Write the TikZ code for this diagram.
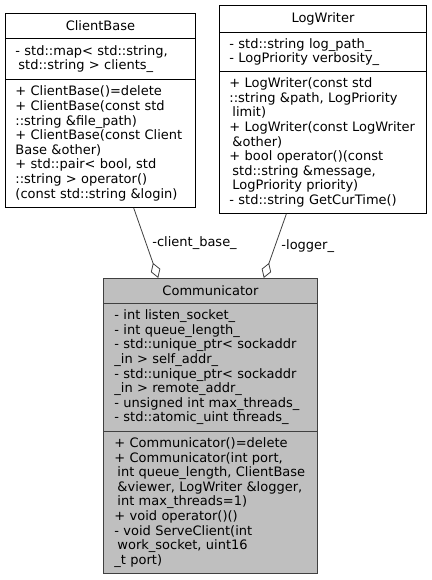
\documentclass[tikz,border=0pt]{standalone}
\usepackage{fontspec}
\setmainfont{DejaVu Sans}
\usetikzlibrary{arrows.meta,calc}
\definecolor{edgegray}{HTML}{404040}
\definecolor{focusfill}{HTML}{BFBFBF}
\newcommand{\pad}{\hspace*{3pt}}
\tikzset{
  umlpart/.style={draw, anchor=north west, inner xsep=10pt, inner ysep=0pt, align=left,
    font=\fontsize{13}{14.6}\selectfont, line width=0.9pt},
  umltitle/.style={umlpart, align=center},
  focus/.style={fill=focusfill, draw=edgegray, inner xsep=11pt},
  edge/.style={draw=edgegray, line width=0.8pt, -{Diamond[open, length=16pt, width=10pt]}},
  lbl/.style={anchor=west, inner sep=0pt, xshift=6pt, font=\fontsize{13}{14.6}\selectfont}
}
\begin{document}
\begin{tikzpicture}[x=1pt,y=-1pt]
  \useasboundingbox (0,0) rectangle (431,580);
  % ClientBase
  \node[umltitle, text width=170pt, minimum height=25pt] (cbt) at (5,13) {ClientBase};
  \node[umlpart, text width=170pt, minimum height=41pt] (cba) at (5,38)
    {- std::map< std::string,\\ \pad std::string > clients\_};
  \node[umlpart, text width=170pt, minimum height=128pt] (cbm) at (5,79)
    {+ ClientBase()=delete\\+ ClientBase(const std\\::string \&file\_path)\\+ ClientBase(const Client\\Base \&other)\\+ std::pair< bool, std\\::string > operator()\\(const std::string \&login)};
  % LogWriter
  \node[umltitle, text width=187pt, minimum height=27pt] (lwt) at (219,5) {LogWriter};
  \node[umlpart, text width=187pt, minimum height=39pt] (lwa) at (219,32)
    {- std::string log\_path\_\\- LogPriority verbosity\_};
  \node[umlpart, text width=187pt, minimum height=142pt] (lwm) at (219,71)
    {+ LogWriter(const std\\::string \&path, LogPriority\\\pad limit)\\+ LogWriter(const LogWriter\\\pad \&other)\\+ bool operator()(const\\\pad std::string \&message,\\\pad LogPriority priority)\\- std::string GetCurTime()};
  % Communicator
  \node[umltitle, focus, text width=192pt, minimum height=25pt] (ct) at (103,278) {Communicator};
  \node[umlpart, focus, text width=192pt, minimum height=128pt] (ca) at (103,303)
    {- int listen\_socket\_\\- int queue\_length\_\\- std::unique\_ptr< sockaddr\\\_in > self\_addr\_\\- std::unique\_ptr< sockaddr\\\_in > remote\_addr\_\\- unsigned int max\_threads\_\\- std::atomic\_uint threads\_};
  \node[umlpart, focus, text width=192pt, minimum height=142pt] (cm) at (103,431)
    {+ Communicator()=delete\\+ Communicator(int port,\\\pad int queue\_length, ClientBase\\\pad \&viewer, LogWriter \&logger,\\\pad int max\_threads=1)\\+ void operator()()\\- void ServeClient(int\\\pad work\_socket, uint16\\\_t port)};
  \foreach \from/\a/\b/\lbl in {cbm/0.674/0.257/-client\_base\_, lwm/0.324/0.748/-logger\_}
    \draw[edge] ($(\from.south west)!\a!(\from.south east)$) -- ($(ct.north west)!\b!(ct.north east)$)
      node[lbl, pos=0.5] {\lbl};
\end{tikzpicture}
\end{document}
